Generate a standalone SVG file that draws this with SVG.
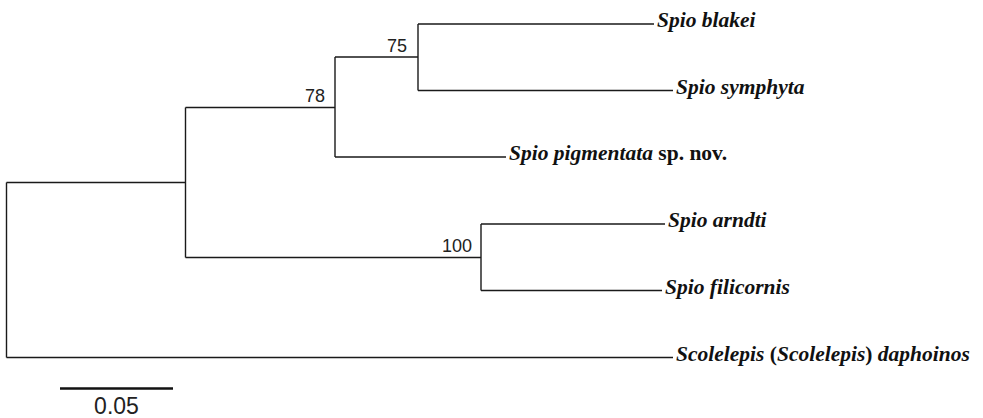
<svg xmlns="http://www.w3.org/2000/svg" width="983" height="418" viewBox="0 0 983 418">
<style>
.br{fill:none;stroke:#1a1a1a;stroke-width:1.4}
.tip{font-family:"Liberation Serif","Times New Roman",serif;font-size:21.5px;font-weight:bold;font-style:italic;fill:#111}
.up{font-style:normal}
.bs{font-family:"Liberation Sans",Arial,sans-serif;font-size:18px;fill:#222;text-anchor:end}
.sc{font-family:"Liberation Sans",Arial,sans-serif;font-size:23px;fill:#222;text-anchor:middle}
</style>
<rect width="983" height="418" fill="#fff"/>
<g id="connectors">
<path class="br" d="M6.5,182.5V357.5M6.5,182.5H185.5M185.5,107.5V257.5M185.5,107.5H335M335,57V157M335,57H418M418,24V90.5M418,24H654M418,90.5H673M335,157H506M185.5,257.5H481M481,224V290.5M481,224H665M481,290.5H662M6.5,357.5H673"/>
</g>
<g id="node-75"><text class="bs" x="407" y="52">75</text></g>
<g id="node-78"><text class="bs" x="325" y="102">78</text></g>
<g id="node-100"><text class="bs" x="472" y="252">100</text></g>
<g id="tip-blakei"><text class="tip" x="657" y="27">Spio blakei</text></g>
<g id="tip-symphyta"><text class="tip" x="676" y="94">Spio symphyta</text></g>
<g id="tip-pigmentata"><text class="tip" x="509" y="160">Spio pigmentata<tspan class="up"> sp. nov.</tspan></text></g>
<g id="tip-arndti"><text class="tip" x="668" y="227">Spio arndti</text></g>
<g id="tip-filicornis"><text class="tip" x="665" y="294">Spio filicornis</text></g>
<g id="tip-scolelepis"><text class="tip" x="676" y="361">Scolelepis <tspan class="up">(</tspan>Scolelepis<tspan class="up">)</tspan> daphoinos</text></g>
<g id="scale-bar">
<line x1="60" y1="388.5" x2="173" y2="388.5" stroke="#111" stroke-width="2.5"/>
<text class="sc" x="116.5" y="414">0.05</text>
</g>
</svg>
